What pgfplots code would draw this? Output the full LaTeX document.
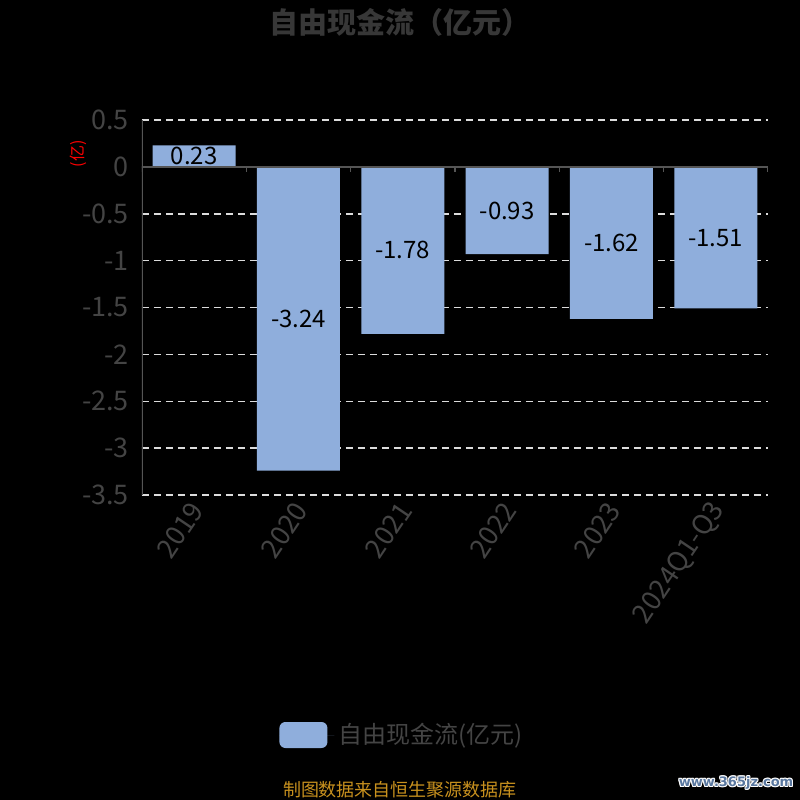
\documentclass[border=0pt]{standalone}
\usepackage{pgfplots}
\pgfplotsset{compat=1.18}
\usepackage{fontspec}
\setmainfont{Noto Sans CJK SC}
\newfontfamily\wmfont{DejaVu Sans}
\definecolor{barblue}{RGB}{143,174,220}
\definecolor{txtgray}{RGB}{68,68,68}
\definecolor{titlegray}{RGB}{55,55,55}
\definecolor{axgray}{RGB}{85,85,85}
\definecolor{gridc}{RGB}{220,220,220}
\definecolor{footc}{RGB}{200,145,30}
\definecolor{wmblue}{RGB}{90,120,160}

\begin{document}
\begin{tikzpicture}
\fill[black] (0,0) rectangle (400pt,400pt);
\path[use as bounding box] (0,0) rectangle (400pt,400pt);
\begin{axis}[
    at={(71pt,152.5pt)}, anchor=south west,
    scale only axis, width=313pt, height=187.5pt,
    xmin=-0.5, xmax=5.5, ymin=-3.5, ymax=0.5,
    axis line style={draw=none},
    major tick length=0pt,
    xtick={0,1,2,3,4,5},
    xticklabels={2019,2020,2021,2022,2023,2024Q1-Q3},
    ytick={-3.5,-3,-2.5,-2,-1.5,-1,-0.5,0,0.5},
    yticklabels={-3.5,-3,-2.5,-2,-1.5,-1,-0.5,0,0.5},
    ticklabel style={text=txtgray},
    xticklabel style={rotate=56, anchor=east, yshift=-4pt, font=\fontsize{13.5}{15}\selectfont},
    yticklabel style={xshift=-3pt, font=\fontsize{13.5}{15}\selectfont},
    ymajorgrids,
    grid style={gridc, line width=0.75pt, dash pattern=on 3.5pt off 2.5pt},
    legend style={at={(axis description cs:0.417,-0.64)}, anchor=center,
        draw=none, fill=none, text=txtgray, font=\fontsize{12}{14}\selectfont},
]
\addplot[ybar, bar width=41.5pt, fill=barblue, draw=none,
    point meta=explicit symbolic,
    visualization depends on={rawy \as \rawy},
    nodes near coords, nodes near coords align={center},
    nodes near coords style={anchor=center, text=black,
        font=\fontsize{12}{14}\selectfont, yshift={(-23.4375*(\rawy))*1pt}},
    legend image code/.code={
        \fill[barblue, rounded corners=3pt] (0pt,-6.5pt) rectangle (24pt,6.5pt);
        \path (0pt,0pt) -- (27.5pt,0pt);}
] coordinates {
    (0,0.23)[0.23] (1,-3.24)[-3.24] (2,-1.78)[-1.78] (3,-0.93)[-0.93] (4,-1.62)[-1.62] (5,-1.51)[-1.51]
};
\addlegendentry{自由现金流(亿元)}
\draw[axgray, line width=0.75pt] (axis cs:-0.5,-3.5) -- (axis cs:-0.5,0.5);
\draw[axgray, line width=0.75pt] (axis cs:-0.5,0) -- (axis cs:5.5,0);
\pgfplotsinvokeforeach{-3.5,-3,-2.5,-2,-1.5,-1,-0.5,0,0.5}{
    \draw[axgray, line width=0.75pt] (axis cs:-0.5,#1) -- ([xshift=-2.5pt]axis cs:-0.5,#1);
}
\pgfplotsinvokeforeach{-0.5,0.5,1.5,2.5,3.5,4.5,5.5}{
    \draw[axgray, line width=0.75pt] (axis cs:#1,0) -- ([yshift=-2.5pt]axis cs:#1,0);
}
\end{axis}
\node[rotate=90, text=red, font=\fontsize{8}{10}\selectfont] at (39pt,323pt) {(亿)};
\node[font=\fontsize{14.5}{16}\selectfont\bfseries, text=titlegray] at (200pt,389pt) {自由现金流（亿元）};
\node[font=\fontsize{9}{11}\selectfont, text=footc] at (200pt,5pt) {制图数据来自恒生聚源数据库};
\foreach \dx/\dy in {0.5/0,-0.5/0,0/0.5,0/-0.5,0.4/0.4,-0.4/0.4,0.4/-0.4,-0.4/-0.4}{
    \node[font=\wmfont\bfseries\fontsize{6.5}{8}\selectfont, text=white] at (368pt+\dx pt,8.5pt+\dy pt) {www.365jz.com};
}
\node[font=\wmfont\bfseries\fontsize{6.5}{8}\selectfont, text=wmblue] at (368pt,8.5pt) {www.365jz.com};
\end{tikzpicture}
\end{document}
